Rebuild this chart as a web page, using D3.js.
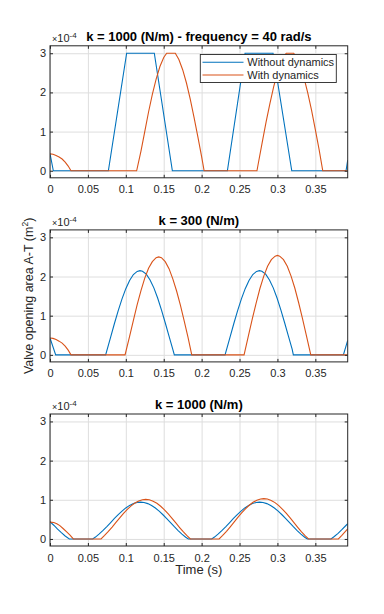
<!DOCTYPE html>
<html>
<head>
<meta charset="utf-8">
<script src="https://cdn.jsdelivr.net/npm/d3@7"></script>
<style>
body { margin: 0; background: #fff; }
svg { display: block; font-family: "Liberation Sans", Arial, sans-serif; }
</style>
</head>
<body>
<svg id="chart" width="384" height="614"></svg>
<script>
// tick labels and texts
const xTicks = [0, 0.05, 0.1, 0.15, 0.2, 0.25, 0.3, 0.35];
const yTicks = [0, 1, 2, 3];
const titles = ["k = 1000 (N/m) - frequency = 40 rad/s", "k = 300 (N/m)", "k = 1000 (N/m)"];
const seriesNames = ["Without dynamics", "With dynamics"];

// valve opening area (x1e-4 m^2) vs time (s)
const noDyn1 = [[0,0.44],[0.0044,0],[0.077,0],[0.1011,3],[0.1376,3],[0.1614,0],[0.234,0],[0.2573,3],
  [0.2942,3],[0.3189,0],[0.3905,0],[0.3927,0.27]];
const withDyn1 = [[0,0.43],[0.004,0.42],[0.008,0.39],[0.012,0.35],[0.016,0.30],[0.020,0.22],[0.024,0.12],[0.0277,0],
  [0.1143,0],[0.120,0.50],[0.125,1.00],[0.130,1.50],[0.135,1.95],[0.140,2.34],[0.145,2.66],[0.150,2.89],[0.1539,3],
  [0.1653,3],[0.170,2.84],[0.175,2.58],[0.180,2.24],[0.185,1.83],[0.190,1.36],[0.195,0.87],[0.200,0.36],[0.2033,0],
  [0.273,0],[0.275,0.21],[0.280,0.73],[0.285,1.24],[0.290,1.71],[0.295,2.14],[0.300,2.50],[0.305,2.77],[0.310,2.96],
  [0.3117,3],[0.3215,3],[0.325,2.90],[0.330,2.69],[0.335,2.38],[0.340,1.99],[0.345,1.55],[0.350,1.05],[0.355,0.54],
  [0.3598,0],[0.3927,0]];

const noDyn2 = [[0,0.43],[0.0075,0],[0.0734,0],[0.080,0.455],[0.085,0.80],[0.090,1.13],[0.095,1.43],[0.100,1.69],
  [0.105,1.90],[0.110,2.05],[0.115,2.13],[0.1187,2.15],[0.122,2.135],[0.127,2.06],[0.132,1.91],[0.137,1.71],[0.142,1.45],
  [0.147,1.15],[0.152,0.82],[0.157,0.48],[0.162,0.14],[0.164,0],
  [0.2309,0],[0.2375,0.455],[0.2425,0.80],[0.2475,1.13],[0.2525,1.43],[0.2575,1.69],[0.2625,1.90],[0.2675,2.05],
  [0.2725,2.13],[0.2762,2.15],[0.2795,2.135],[0.2845,2.06],[0.2895,1.91],[0.2945,1.71],[0.2995,1.45],[0.3045,1.15],
  [0.3095,0.82],[0.3145,0.48],[0.3195,0.14],[0.321,0],[0.387,0],[0.3927,0.37]];
const withDyn2 = [[0,0.43],[0.004,0.42],[0.008,0.39],[0.012,0.35],[0.016,0.30],[0.020,0.22],[0.024,0.12],[0.0277,0],
  [0.099,0],[0.105,0.47],[0.110,0.88],[0.115,1.28],[0.120,1.64],[0.125,1.96],[0.130,2.21],[0.135,2.38],[0.140,2.48],
  [0.1434,2.50],[0.147,2.48],[0.152,2.38],[0.157,2.20],[0.162,1.94],[0.167,1.63],[0.172,1.27],[0.177,0.87],[0.182,0.45],
  [0.187,0],[0.256,0],[0.262,0.51],[0.267,0.93],[0.272,1.33],[0.277,1.70],[0.282,2.01],[0.287,2.26],[0.292,2.43],
  [0.297,2.52],[0.300,2.54],[0.303,2.52],[0.308,2.43],[0.313,2.26],[0.318,2.01],[0.323,1.70],[0.328,1.33],[0.333,0.93],
  [0.338,0.51],[0.344,0],[0.3927,0]];

const noDyn3 = [[0,0.44],[0.005,0.35],[0.010,0.25],[0.015,0.16],[0.020,0.075],[0.0255,0],[0.0563,0],[0.060,0.048],
  [0.065,0.128],[0.070,0.218],[0.075,0.316],[0.080,0.419],[0.085,0.523],[0.090,0.621],[0.095,0.712],[0.100,0.792],
  [0.105,0.857],[0.110,0.904],[0.115,0.932],[0.1194,0.94],[0.124,0.931],[0.129,0.902],[0.134,0.854],[0.139,0.789],
  [0.144,0.709],[0.149,0.618],[0.154,0.518],[0.159,0.415],[0.164,0.312],[0.169,0.214],[0.174,0.125],[0.179,0.045],
  [0.1825,0],[0.2133,0],[0.217,0.048],[0.222,0.128],[0.227,0.218],[0.232,0.316],[0.237,0.419],[0.242,0.523],
  [0.247,0.621],[0.252,0.712],[0.257,0.792],[0.262,0.857],[0.267,0.904],[0.272,0.932],[0.2764,0.94],[0.281,0.931],
  [0.286,0.902],[0.291,0.854],[0.296,0.789],[0.301,0.709],[0.306,0.618],[0.311,0.518],[0.316,0.415],[0.321,0.312],
  [0.326,0.214],[0.331,0.125],[0.336,0.045],[0.3395,0],[0.3707,0],[0.375,0.063],[0.380,0.144],[0.385,0.237],
  [0.390,0.337],[0.3927,0.39]];
const withDyn3 = [[0,0.43],[0.005,0.42],[0.009,0.39],[0.013,0.34],[0.0176,0.26],[0.022,0.18],[0.0264,0.10],[0.0308,0],
  [0.0673,0],[0.072,0.089],[0.077,0.192],[0.082,0.304],[0.087,0.422],[0.092,0.539],[0.097,0.652],[0.102,0.755],
  [0.107,0.844],[0.112,0.917],[0.117,0.970],[0.122,1.002],[0.1262,1.01],[0.131,0.999],[0.136,0.965],[0.141,0.910],
  [0.146,0.834],[0.151,0.743],[0.156,0.638],[0.161,0.525],[0.166,0.408],[0.171,0.291],[0.176,0.179],[0.181,0.078],
  [0.1852,0],[0.2231,0],[0.2278,0.09],[0.2328,0.195],[0.2378,0.31],[0.2428,0.43],[0.2478,0.55],[0.2528,0.665],
  [0.2578,0.77],[0.2628,0.86],[0.2678,0.935],[0.2728,0.99],[0.2778,1.022],[0.282,1.03],[0.2868,1.019],[0.2918,0.984],
  [0.2968,0.928],[0.3018,0.851],[0.3068,0.758],[0.3118,0.651],[0.3168,0.536],[0.3218,0.416],[0.3268,0.297],
  [0.3318,0.183],[0.3368,0.08],[0.341,0],[0.3804,0],[0.385,0.09],[0.390,0.20],[0.3927,0.26]];

const panels = [[noDyn1, withDyn1], [noDyn2, withDyn2], [noDyn3, withDyn3]];
const colors = ["#0072BD", "#D95319"];

const left = 50, right = 347.7, h = 132;
const tops = [45.8, 229.9, 414];
const ink = "#262626";

const svg = d3.select("#chart");

const x = d3.scaleLinear().domain([0, 0.3927]).range([left, right]);

panels.forEach((series, i) => {
    const top = tops[i];
    const y = d3.scaleLinear().domain([-0.18, 3.19]).range([top + h, top]);

    // grid
    svg.append("g")
        .attr("transform", `translate(0,${top + h})`)
        .call(d3.axisBottom(x).tickValues(xTicks).tickSize(-h).tickFormat(""))
        .call(g => g.select(".domain").remove())
        .call(g => g.selectAll(".tick line").attr("stroke", "#dedede"));
    svg.append("g")
        .attr("transform", `translate(${left},0)`)
        .call(d3.axisLeft(y).tickValues(yTicks).tickSize(-(right - left)).tickFormat(""))
        .call(g => g.select(".domain").remove())
        .call(g => g.selectAll(".tick line").attr("stroke", "#dedede"));

    // lines
    svg.append("clipPath").attr("id", "clip" + i)
        .append("rect").attr("x", left).attr("y", top).attr("width", right - left).attr("height", h);

    const line = d3.line().x(d => x(d[0])).y(d => y(d[1]));
    svg.append("g").attr("clip-path", `url(#clip${i})`)
        .selectAll("path")
        .data(series)
        .join("path")
            .attr("fill", "none")
            .attr("stroke", (d, j) => colors[j])
            .attr("stroke-width", 1.1)
            .attr("d", line);

    // ticks (inward, all sides) and labels
    const styleAxis = g => {
        g.select(".domain").remove();
        g.selectAll(".tick line").attr("stroke", ink);
        g.selectAll("text").attr("fill", ink).attr("font-size", 11)
            .attr("font-family", '"Liberation Sans", Arial, sans-serif');
    };
    svg.append("g")
        .attr("transform", `translate(0,${top + h})`)
        .call(d3.axisBottom(x).tickValues(xTicks).tickSize(-3).tickPadding(7.7).tickFormat(d3.format("")))
        .call(styleAxis);
    svg.append("g")
        .attr("transform", `translate(0,${top})`)
        .call(d3.axisTop(x).tickValues(xTicks).tickSize(-3).tickFormat(""))
        .call(styleAxis);
    svg.append("g")
        .attr("transform", `translate(${left},0)`)
        .call(d3.axisLeft(y).tickValues(yTicks).tickSize(-3).tickPadding(4).tickFormat(d3.format("d")))
        .call(styleAxis);
    svg.append("g")
        .attr("transform", `translate(${right},0)`)
        .call(d3.axisRight(y).tickValues(yTicks).tickSize(-3).tickFormat(""))
        .call(styleAxis);

    svg.append("rect")
        .attr("x", left).attr("y", top)
        .attr("width", right - left).attr("height", h)
        .attr("fill", "none").attr("stroke", ink).attr("stroke-width", 1);

    // exponent
    const ex = svg.append("text").attr("x", left + 2).attr("y", top - 4).attr("fill", ink);
    ex.append("tspan").attr("font-size", 9).text("×");
    ex.append("tspan").attr("font-size", 11).text("10");
    ex.append("tspan").attr("font-size", 8).attr("dy", -4).text("-4");

    // title
    svg.append("text")
        .attr("x", (left + right) / 2).attr("y", top - 5)
        .attr("text-anchor", "middle")
        .attr("font-size", 13).attr("font-weight", "bold").attr("fill", "#000")
        .text(titles[i]);

    if (i === 0) {
        const lg = svg.append("g");
        lg.append("rect")
            .attr("x", 200.3).attr("y", 54.5).attr("width", 136).attr("height", 28)
            .attr("fill", "#fff").attr("stroke", ink).attr("stroke-width", 0.9);
        seriesNames.forEach((name, j) => {
            const ly = 62.3 + j * 12.7;
            lg.append("line")
                .attr("x1", 202.5).attr("x2", 243.5).attr("y1", ly).attr("y2", ly)
                .attr("stroke", colors[j]).attr("stroke-width", 1.1);
            lg.append("text")
                .attr("x", 247.3).attr("y", ly + 3.9)
                .attr("font-size", 11).attr("fill", ink)
                .text(name);
        });
    }
});

// axis labels
const yl = svg.append("text")
    .attr("transform", `translate(32.5,${(tops[1] + tops[1] + h) / 2}) rotate(-90)`)
    .attr("text-anchor", "middle")
    .attr("font-size", 12.5).attr("fill", ink);
yl.append("tspan").text("Valve opening area A-T (m");
yl.append("tspan").attr("font-size", 8.5).attr("dy", -5).text("2");
yl.append("tspan").attr("dy", 5).text(")");

svg.append("text")
    .attr("x", (left + right) / 2).attr("y", 574)
    .attr("text-anchor", "middle")
    .attr("font-size", 13).attr("fill", ink)
    .text("Time (s)");
</script>
</body>
</html>
